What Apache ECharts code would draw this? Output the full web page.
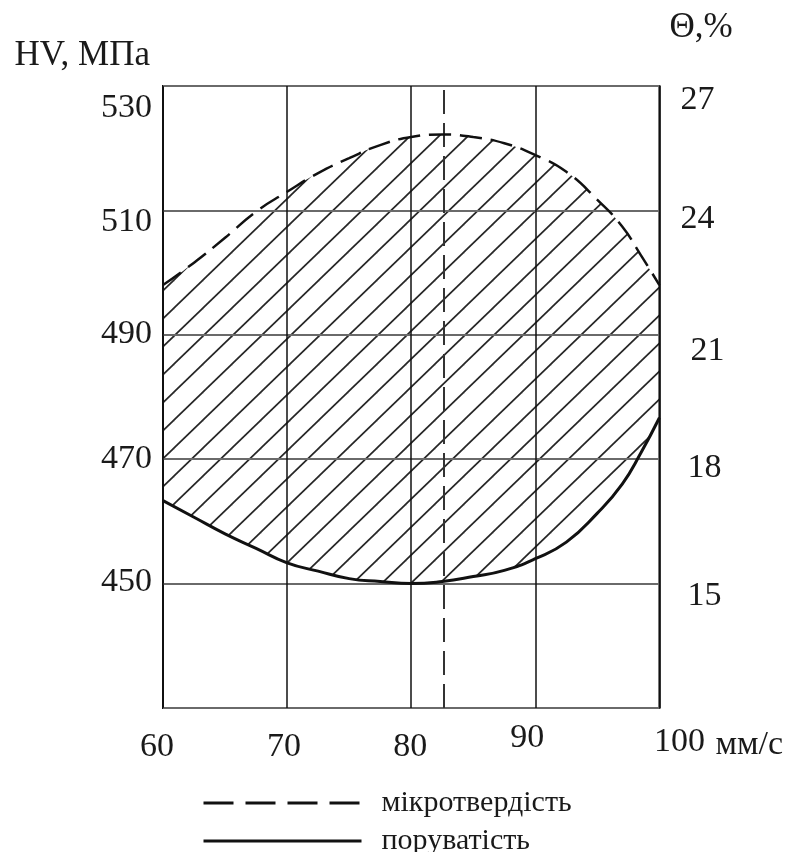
<!DOCTYPE html>
<html>
<head>
<meta charset="utf-8">
<script src="https://cdn.jsdelivr.net/npm/echarts@6/dist/echarts.min.js"></script>
<style>
html,body{margin:0;padding:0;background:#fff;}
#chart{width:786px;height:852px;}
</style>
</head>
<body>
<div id="chart"></div>
<script>
// ---- data ----
const speeds = [60, 62.5, 65, 67.5, 70, 72.5, 75, 77.5, 80, 82.5, 85, 87.5, 90, 92.5, 95, 97, 98.5, 100];
const microhardness = [498, 501.6, 505.6, 509.8, 513.0, 516.0, 518.4, 520.5, 521.8, 522.2, 521.8, 520.8, 518.9, 516.2, 511.7, 507.4, 502.8, 498];
const porosity = [17.0, 16.6, 16.2, 15.85, 15.5, 15.3, 15.12, 15.05, 15.0, 15.05, 15.17, 15.32, 15.6, 16.0, 16.7, 17.4, 18.15, 19.0];
const optimumSpeed = [82.6];
const hvTicks = [450, 470, 490, 510, 530];
const porosityTicks = [15, 18, 21, 24, 27];
const speedTicks = [60, 70, 80, 90, 100];
const seriesNames = ['мікротвердість', 'поруватість'];
const axisNames = ['HV, МПа', 'Θ,%', 'мм/с'];

// ---- axis ranges ----
const hvRange = [430, 530];
const porRange = [12, 27];

// ---- style ----
const FONT = "'Liberation Serif', 'DejaVu Serif', 'Times New Roman', serif";
const INK = '#1a1a1a';
const labelShift = {
  left: {530: [0, 22], 510: [0, 12], 490: [0, -1], 470: [0, 0], 450: [0, -2]},
  right: {27: [0, 14], 24: [0, 9], 21: [10, 16], 18: [7, 9], 15: [7, 12]},
  x: {60: [-6, 0], 70: [-3, 0], 80: [-1, 0], 90: [-8, -9], 100: [20, -5]}
};

function richFor(prefix, shifts, mode) {
  const rich = {};
  Object.keys(shifts).forEach(k => {
    const dx = shifts[k][0], dy = shifts[k][1];
    let pad;
    if (mode === 'x') {
      pad = [14 + dy, dx < 0 ? -2 * dx : 0, 0, dx > 0 ? 2 * dx : 0];
    } else if (mode === 'left') {
      pad = [dy > 0 ? 2 * dy : 0, 0, dy < 0 ? -2 * dy : 0, 0];
    } else {
      pad = [dy > 0 ? 2 * dy : 0, 0, dy < 0 ? -2 * dy : 0, dx];
    }
    rich[prefix + k] = {fontFamily: FONT, fontSize: 34, color: INK, padding: pad};
  });
  return rich;
}

// diagonal hatch texture used as the fill under the microhardness curve
function hatchTexture() {
  const w = 29, h = 28;
  const c = document.createElement('canvas');
  c.width = w; c.height = h;
  const g = c.getContext('2d');
  g.strokeStyle = '#262626';
  g.lineWidth = 1.7;
  [-w, 0, w].forEach(dx => {
    g.beginPath();
    g.moveTo(dx - w, 2 * h);
    g.lineTo(dx + 2 * w, -h);
    g.stroke();
  });
  return c;
}

const pts = arr => speeds.map((x, i) => [x, arr[i]]);
const SMOOTH = 0.5;

function legendFor(name, top, lineType) {
  return {
    data: [name],
    orient: 'horizontal',
    left: 202,
    top: top,
    padding: 0,
    itemWidth: 158,
    itemHeight: 14,
    itemStyle: {opacity: 0},
    lineStyle: {color: '#111', width: 3, type: lineType},
    textStyle: {fontFamily: FONT, fontSize: 30, color: INK, lineHeight: 30, padding: [0, 0, 0, 15]}
  };
}

const chart = echarts.init(document.getElementById('chart'), null, {renderer: 'canvas'});
chart.setOption({
  animation: false,
  backgroundColor: '#fff',
  grid: {left: 163, right: 121, top: 86, bottom: 144, show: true, z: 4, borderColor: '#111', borderWidth: 2, backgroundColor: 'rgba(0,0,0,0)'},
  legend: [
    legendFor(seriesNames[0], 788, [30, 12]),
    legendFor(seriesNames[1], 826, 'solid')
  ],
  xAxis: {
    type: 'value',
    z: 4,
    min: speedTicks[0],
    max: speedTicks[speedTicks.length - 1],
    interval: 10,
    name: axisNames[2],
    nameLocation: 'end',
    nameGap: 56,
    nameTextStyle: {fontFamily: FONT, fontSize: 34, color: INK, verticalAlign: 'top', padding: [20, 0, 0, 0]},
    axisLine: {show: false},
    axisTick: {show: false},
    axisLabel: {
      margin: 8,
      fontFamily: FONT, fontSize: 34, color: INK,
      formatter: v => speedTicks.includes(v) ? '{x' + v + '|' + v + '}' : '',
      rich: richFor('x', labelShift.x, 'x')
    },
    splitLine: {show: true, lineStyle: {color: '#111', width: 1.5}}
  },
  yAxis: [{
    type: 'value',
    z: 4,
    position: 'left',
    min: hvRange[0], max: hvRange[1], interval: 20,
    name: axisNames[0],
    nameLocation: 'end',
    nameGap: 13,
    nameTextStyle: {fontFamily: FONT, fontSize: 35, color: INK, align: 'right', padding: [0, 13, 0, 0]},
    axisLine: {show: false},
    axisTick: {show: false},
    axisLabel: {
      margin: 11,
      fontFamily: FONT, fontSize: 34, color: INK,
      formatter: v => hvTicks.includes(v) ? '{l' + v + '|' + v + '}' : '',
      rich: richFor('l', labelShift.left, 'left')
    },
    splitLine: {show: true, lineStyle: {color: '#6a6a6a', width: 2}}
  }, {
    type: 'value',
    z: 4,
    position: 'right',
    min: porRange[0], max: porRange[1], interval: 3,
    name: axisNames[1],
    nameLocation: 'end',
    nameGap: 41,
    nameTextStyle: {fontFamily: FONT, fontSize: 35, color: INK, align: 'left', padding: [0, 0, 0, 10]},
    axisLine: {show: false},
    axisTick: {show: false},
    axisLabel: {
      margin: 21,
      fontFamily: FONT, fontSize: 34, color: INK,
      formatter: v => porosityTicks.includes(v) ? '{r' + v + '|' + v + '}' : '',
      rich: richFor('r', labelShift.right, 'right')
    },
    splitLine: {show: false}
  }],
  series: [{
    // hatched fill under the microhardness curve
    name: 'hatch',
    type: 'line',
    yAxisIndex: 0,
    data: pts(microhardness),
    smooth: SMOOTH,
    symbol: 'none',
    silent: true,
    lineStyle: {opacity: 0, width: 0},
    areaStyle: {color: {image: hatchTexture(), repeat: 'repeat'}, opacity: 1, origin: 'start'},
    z: 1
  }, {
    // clears the hatch below the porosity curve
    name: 'clear',
    type: 'line',
    yAxisIndex: 1,
    data: pts(porosity),
    smooth: SMOOTH,
    symbol: 'none',
    silent: true,
    lineStyle: {opacity: 0, width: 0},
    areaStyle: {color: '#ffffff', opacity: 1, origin: 'start'},
    z: 2
  }, {
    name: seriesNames[0],
    type: 'line',
    yAxisIndex: 0,
    data: pts(microhardness),
    smooth: SMOOTH,
    symbol: 'none',
    lineStyle: {color: '#111', width: 2.5, type: [22, 9]},
    itemStyle: {color: '#111'},
    z: 6,
    markLine: {
      silent: true,
      symbol: ['none', 'none'],
      label: {show: false},
      lineStyle: {color: '#333', width: 2, type: [24, 9]},
      data: optimumSpeed.map(v => ({xAxis: v}))
    }
  }, {
    name: seriesNames[1],
    type: 'line',
    yAxisIndex: 1,
    data: pts(porosity),
    smooth: SMOOTH,
    symbol: 'none',
    lineStyle: {color: '#111', width: 3, type: 'solid'},
    itemStyle: {color: '#111'},
    z: 6
  }]
});
</script>
</body>
</html>
